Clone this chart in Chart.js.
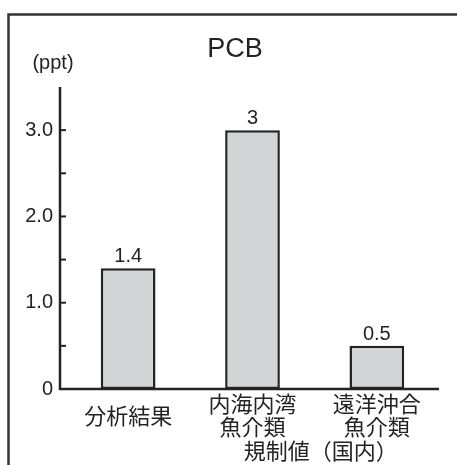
<!DOCTYPE html>
<html>
<head>
<meta charset="utf-8">
<script src="https://cdn.jsdelivr.net/npm/chart.js@4"></script>
<style>
  html, body { margin: 0; padding: 0; background: #fff; }
  canvas { display: block; }
</style>
</head>
<body>
<canvas id="c" width="457" height="465"></canvas>
<script>
// PCB concentration (ppt): measured result vs. domestic regulatory values
const categories = [["分析結果"], ["内海内湾", "魚介類"], ["遠洋沖合", "魚介類"]];
const values = [1.4, 3, 0.5];
const valueLabels = ["1.4", "3", "0.5"];
const yTickValues = [0, 0.5, 1, 1.5, 2, 2.5, 3];
const yTickLabels = { 0: "0", 1: "1.0", 2: "2.0", 3: "3.0" };
const groupLabel = "規制値（国内）";
const titleText = "PCB";
const unitText = "(ppt)";

const INK = "#232323";
const LATIN = "'Liberation Sans', Arial, sans-serif";
const CJK = "'Noto Sans CJK JP', 'Noto Sans CJK SC', sans-serif";

const decorations = {
  id: "decorations",
  afterDatasetsDraw(chart) {
    const ctx = chart.ctx;
    const x = chart.scales.x, y = chart.scales.y;
    const axisX = chart.chartArea.left - 6;
    const zeroY = y.getPixelForValue(0);
    ctx.save();

    // outer frame (left and top edges)
    ctx.strokeStyle = "#333";
    ctx.lineWidth = 2.5;
    ctx.beginPath();
    ctx.moveTo(8.5, chart.height);
    ctx.lineTo(8.5, 14.5);
    ctx.lineTo(chart.width, 14.5);
    ctx.stroke();

    // axes
    ctx.strokeStyle = INK;
    ctx.lineWidth = 2.5;
    ctx.beginPath();
    ctx.moveTo(axisX, y.getPixelForValue(y.max));
    ctx.lineTo(axisX, zeroY);
    ctx.lineTo(chart.chartArea.right, zeroY);
    ctx.stroke();

    // inward ticks and tick labels
    ctx.lineWidth = 2;
    ctx.fillStyle = INK;
    ctx.font = "20px " + LATIN;
    ctx.textAlign = "right";
    ctx.textBaseline = "middle";
    yTickValues.forEach(v => {
      const py = y.getPixelForValue(v);
      if (v > 0) {
        ctx.beginPath();
        ctx.moveTo(axisX, py);
        ctx.lineTo(axisX + 6, py);
        ctx.stroke();
      }
      if (yTickLabels[v] !== undefined) ctx.fillText(yTickLabels[v], 53, py);
    });

    // value labels above bars
    ctx.textAlign = "center";
    ctx.textBaseline = "alphabetic";
    ctx.font = "20px " + LATIN;
    values.forEach((v, i) => {
      ctx.fillText(valueLabels[i], x.getPixelForValue(i), y.getPixelForValue(v) - 6);
    });

    // category labels
    ctx.font = "22px " + CJK;
    ctx.textBaseline = "middle";
    categories.forEach((lines, i) => {
      const px = x.getPixelForValue(i);
      if (lines.length === 1) {
        ctx.fillText(lines[0], px, zeroY + 27);
      } else {
        lines.forEach((t, k) => ctx.fillText(t, px, zeroY + 15 + k * 23));
      }
    });
    ctx.fillText(groupLabel, (x.getPixelForValue(1) + x.getPixelForValue(2)) / 2 + 6, zeroY + 62);

    // title and unit
    ctx.font = "27px " + LATIN;
    ctx.fillText(titleText, 235, 50);
    ctx.font = "20px " + LATIN;
    ctx.fillText(unitText, 53, 63);

    ctx.restore();
  }
};

new Chart(document.getElementById("c"), {
  type: "bar",
  data: {
    labels: categories.map(l => l.join("")),
    datasets: [{
      data: values,
      backgroundColor: "#d3d4d6",
      borderColor: INK,
      borderWidth: 2.5,
      borderSkipped: false,
      barPercentage: 0.44,
      categoryPercentage: 1
    }]
  },
  options: {
    responsive: false,
    animation: false,
    events: [],
    layout: { padding: { left: 66, right: 18, top: 87, bottom: 76 } },
    plugins: { legend: { display: false }, tooltip: { enabled: false }, title: { display: false } },
    scales: {
      x: {
        grid: { display: false }, border: { display: false },
        ticks: { display: false },
        afterFit: s => { s.height = 0; }
      },
      y: {
        min: 0, max: 3.5,
        grid: { display: false }, border: { display: false },
        ticks: { display: false },
        afterFit: s => { s.width = 0; }
      }
    }
  },
  plugins: [decorations]
});
</script>
</body>
</html>
